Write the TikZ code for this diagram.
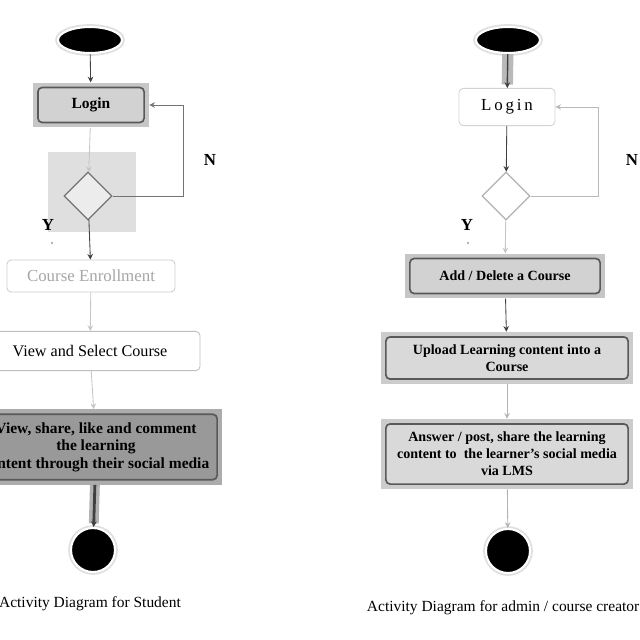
\documentclass[tikz,border=0pt]{standalone}
\usepackage{fontspec}
\setmainfont{Liberation Serif}
\usepackage{tikz}
\usetikzlibrary{shapes.geometric}
\usetikzlibrary{arrows.meta}

\begin{document}
\begin{tikzpicture}[x=0.025cm,y=-0.025cm,
  font=\fontsize{10}{12}\selectfont,
  flow/.style={-{Stealth[length=4pt,width=4pt]}, draw=black!75, line width=0.6pt},
  faint/.style={-{Stealth[length=4pt,width=4pt]}, draw=gray!45, line width=0.6pt},
  startnode/.style={ellipse, fill=black, draw=white, line width=1.5pt, minimum width=1.6cm, minimum height=0.65cm, preaction={draw=gray!25, line width=4pt}},
  endnode/.style={circle, fill=black, draw=white, line width=1.5pt, minimum size=1.1cm, preaction={draw=gray!25, line width=4pt}},
  plainbox/.style={draw=gray!50, rounded corners=3pt, fill=white, align=center, line width=0.6pt},
  greybox/.style 2 args={rectangle, fill=#1, align=center, font=\fontsize{10}{12}\selectfont\bfseries,
    path picture={\draw[draw=black!65, line width=1.2pt, fill=#2, rounded corners=3pt]
      ([shift={(3.5pt,3.5pt)}]path picture bounding box.south west) rectangle
      ([shift={(-3.5pt,-3.5pt)}]path picture bounding box.north east);}},
  choice/.style={diamond, draw=black!55, fill=white, minimum width=1.2cm, minimum height=1.2cm, inner sep=0pt, line width=0.8pt},
  caption/.style={font=\fontsize{11}{13}\selectfont},
  yn/.style={font=\fontsize{12}{14}\selectfont\bfseries}]
  \useasboundingbox (0,0) rectangle (640,640);
  \clip (0,0) rectangle (640,640);

  % student
  \node[startnode] (start1) at (90,40) {};
  \node[greybox={gray!45}{gray!35}, minimum width=2.9cm, minimum height=1.12cm, font=\fontsize{11}{13}\selectfont\bfseries] (login1) at (91,105) {Login};
  \node[fill=gray!25, minimum width=2.2cm, minimum height=1.98cm] (decbg1) at (92,192) {};
  \node[choice, fill=gray!15] (dec1) at (88,196) {};
  \node[plainbox, draw=gray!40, minimum width=4.2cm, minimum height=0.8cm, text=gray!70, font=\fontsize{12}{14}\selectfont] (enroll1) at (91,276) {Course Enrollment};
  \node[plainbox, minimum width=5.5cm, minimum height=0.98cm, font=\fontsize{11.5}{14}\selectfont] (view1) at (90,351) {View and Select Course};
  \node[greybox={gray!65}{gray!80}, minimum width=6.3cm, minimum height=1.88cm, font=\fontsize{11}{12.5}\selectfont\bfseries] (share1) at (96,447) {View, share, like and comment\\the learning\\content through their social media};
  \node[endnode] (end1) at (93,550) {};
  \node[caption] (cap1) at (90,604) {Activity Diagram for Student};
  \node[yn] (n1) at (210,160) {N};
  \node[yn] (y1) at (48,225) {Y};
  \node[circle, fill=gray!60, inner sep=0.7pt] (ydot1) at (52,243) {};

  \draw[flow] (start1) -- (login1);
  \draw[faint] (login1) -- (dec1);
  \draw[flow, draw=black!55] (dec1.east) -- ++(71,0) |- (login1.east);
  \draw[flow] (dec1) -- (enroll1);
  \draw[faint] (enroll1) -- (view1);
  \draw[faint] (view1) -- (share1);
  \draw[flow, line width=2pt, preaction={draw=gray!60, line width=7pt}] (share1) -- (end1);

  % admin / course creator
  \node[startnode] (start2) at (508,40) {};
  \node[plainbox, draw=gray!35, minimum width=2.4cm, minimum height=0.93cm, font=\fontsize{12}{14}\selectfont] (login2) at (507,107) {L\,o\,g\,i\,n};
  \node[choice, draw=gray!60] (dec2) at (506,196) {};
  \node[greybox={gray!45}{gray!35}, minimum width=5cm, minimum height=1.12cm] (add2) at (505,276) {Add / Delete a Course};
  \node[greybox={gray!40}{gray!30}, minimum width=6.3cm, minimum height=1.3cm] (upload2) at (507,358) {Upload Learning content into a\\Course};
  \node[greybox={gray!40}{gray!30}, minimum width=6.3cm, minimum height=1.75cm] (answer2) at (507,454) {Answer / post, share the learning\\content to\ \ the learner's social media\\via LMS};
  \node[endnode] (end2) at (508,551) {};
  \node[caption, anchor=west] (cap2) at (362,608) {Activity Diagram for admin / course creator};
  \node[yn] (n2) at (632,160) {N};
  \node[yn] (y2) at (467,225) {Y};
  \node[circle, fill=gray!60, inner sep=0.7pt] (ydot2) at (468,243) {};

  \draw[flow, line width=1pt, preaction={draw=gray!55, line width=8pt}] (start2) -- (login2);
  \draw[flow] (login2) -- (dec2);
  \draw[flow, draw=gray!55] (dec2.east) -- ++(68,0) |- (login2.east);
  \draw[faint] (dec2) -- (add2);
  \draw[flow] (add2) -- (upload2);
  \draw[faint, draw=gray!60] (upload2) -- (answer2);
  \draw[flow, draw=gray!60] (answer2) -- (end2);
\end{tikzpicture}
\end{document}
